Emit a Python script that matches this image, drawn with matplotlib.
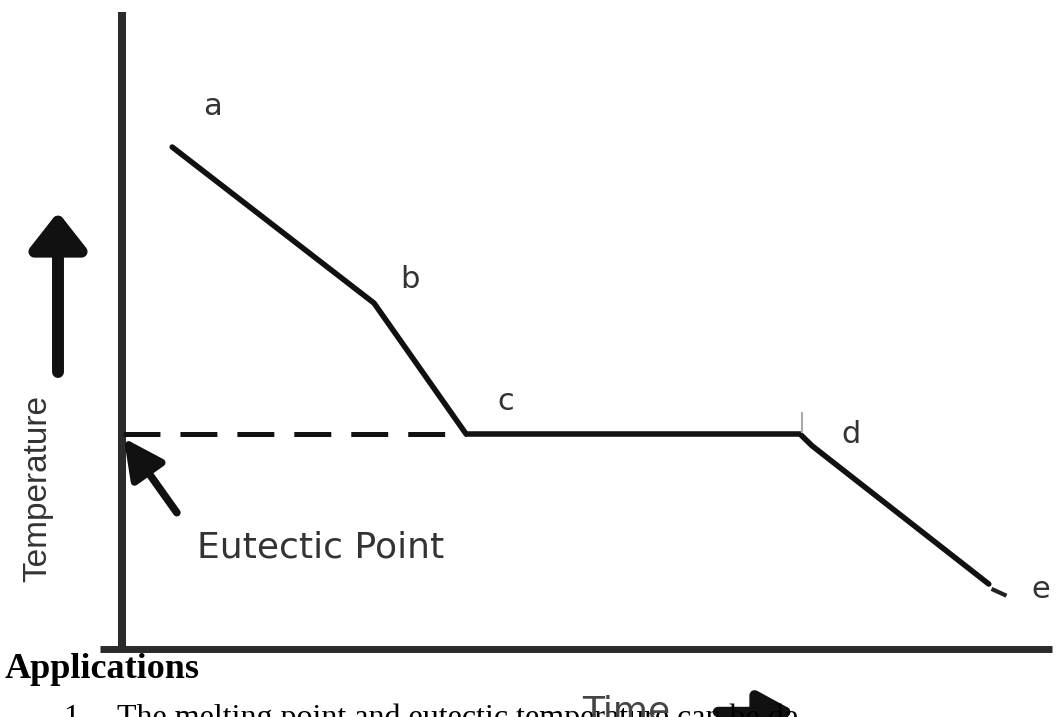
import matplotlib
matplotlib.use("Agg")
import matplotlib.pyplot as plt
import numpy as np

plt.rcParams['lines.scale_dashes'] = False

# ---- data (time, temperature in arbitrary 0-100 units)
curve_time = [5.4, 27.1, 37.0, 72.9, 74.2, 93.2]
curve_temp = [78.8, 54.3, 33.75, 33.75, 31.9, 10.2]
tail_time = [93.7, 94.9]
tail_temp = [9.3, 8.5]
eutectic_temp = 33.75
eutectic_end_time = 37.0
point_labels = ['a', 'b', 'c', 'd', 'e']
label_time = [8.7, 29.9, 40.4, 77.4, 97.8]
label_temp = [83.8, 56.7, 37.5, 32.3, 8.0]
arrow_tail = (5.9, 21.4)
arrow_tip = (0.2, 33.1)
tick_time = [73.1, 73.1]
tick_temp = [37.0, 34.0]

W, H = 1063, 717
fig = plt.figure(figsize=(W / 100, H / 100), dpi=100)
fig.patch.set_facecolor('white')

# axes placed where the drawn axis lines are
L, R, B, T = 122, 1052, 649, 12
ax = fig.add_axes([L / W, (H - B) / H, (R - L) / W, (B - T) / H])
ax.set_xlim(0, 100)
ax.set_ylim(0, 100)
ax.axis('off')

# axis lines
ax.plot([0, 0], [-0.5, 100], color='#2b2b2b', lw=5.8, clip_on=False, solid_capstyle='butt')
ax.plot([-2.4, 100], [0, 0], color='#2b2b2b', lw=5.0, clip_on=False, solid_capstyle='butt')

# cooling curve
ax.plot(curve_time, curve_temp, color='#111111', lw=4.0, solid_joinstyle='round',
        solid_capstyle='round', clip_on=False)
ax.plot(tail_time, tail_temp, color='#222222', lw=3.0, clip_on=False)
ax.plot(tick_time, tick_temp, color='#aaaaaa', lw=1.5, clip_on=False)

# eutectic dashed line
ax.plot([0.1, eutectic_end_time], [eutectic_temp, eutectic_temp], color='#111111',
        lw=3.6, linestyle=(0, (26.6, 14.4)), dash_capstyle='butt')

# eutectic arrow
ax.annotate('', xy=arrow_tip, xytext=arrow_tail, xycoords='data', textcoords='data',
            arrowprops=dict(arrowstyle='-|>,head_length=1.2,head_width=0.6',
                            mutation_scale=20, lw=5.5, color='#111111',
                            shrinkA=0, shrinkB=0))

for lab, tx, ty in zip(point_labels, label_time, label_temp):
    ax.text(tx, ty, lab, fontsize=22, family='DejaVu Sans', color='#333333',
            ha='left', va='baseline')

ax.text(8.06, 14.3, 'Eutectic Point', fontsize=26, family='DejaVu Sans',
        color='#333333', ha='left', va='baseline')

# helpers in figure pixels (top-left origin)
def fp(x, y):
    return (x, H - y)

# Temperature label and up arrow
fig.text(38 / W, 1 - 488 / H, 'Temperature', rotation=90, fontsize=24,
         family='Liberation Sans', color='#333333', ha='center', va='center')
ax.annotate('', xy=fp(58, 212), xytext=fp(58, 372), xycoords='figure pixels',
            textcoords='figure pixels',
            arrowprops=dict(arrowstyle='-|>,head_length=1.08,head_width=0.85',
                            mutation_scale=20, lw=8.6, color='#111111',
                            shrinkA=0, shrinkB=0))

# document text below the picture
fig.text(5 / W, 1 - 678 / H, 'Applications', fontsize=26, family='Liberation Serif',
         weight='bold', color='black', ha='left', va='baseline')
fig.text(63 / W, 1 - 726 / H, '1.', fontsize=23, family='Liberation Serif',
         color='black', ha='left', va='baseline')
fig.text(117 / W, 1 - 726 / H,
         'The melting point and eutectic temperature can be determine',
         fontsize=23, family='Liberation Serif', color='black', ha='left', va='baseline')

# white cover to the right of the arrow
fig.patches.append(plt.Rectangle((797 / W, 0), 1 - 797 / W, 30 / H,
                                 transform=fig.transFigure, facecolor='white',
                                 edgecolor='none', zorder=5))

# Time label and right arrow
fig.text(582 / W, 1 - 721 / H, 'Time', fontsize=26, family='DejaVu Sans',
         color='#444444', ha='left', va='baseline', zorder=6)
ax.annotate('', xy=fp(796, 712), xytext=fp(718, 712), xycoords='figure pixels',
            textcoords='figure pixels',
            arrowprops=dict(arrowstyle='-|>,head_length=1.1,head_width=0.6',
                            mutation_scale=20, lw=7.5, color='#111111',
                            shrinkA=0, shrinkB=0), zorder=7)

fig.savefig('out.png', dpi=100, facecolor='white')
